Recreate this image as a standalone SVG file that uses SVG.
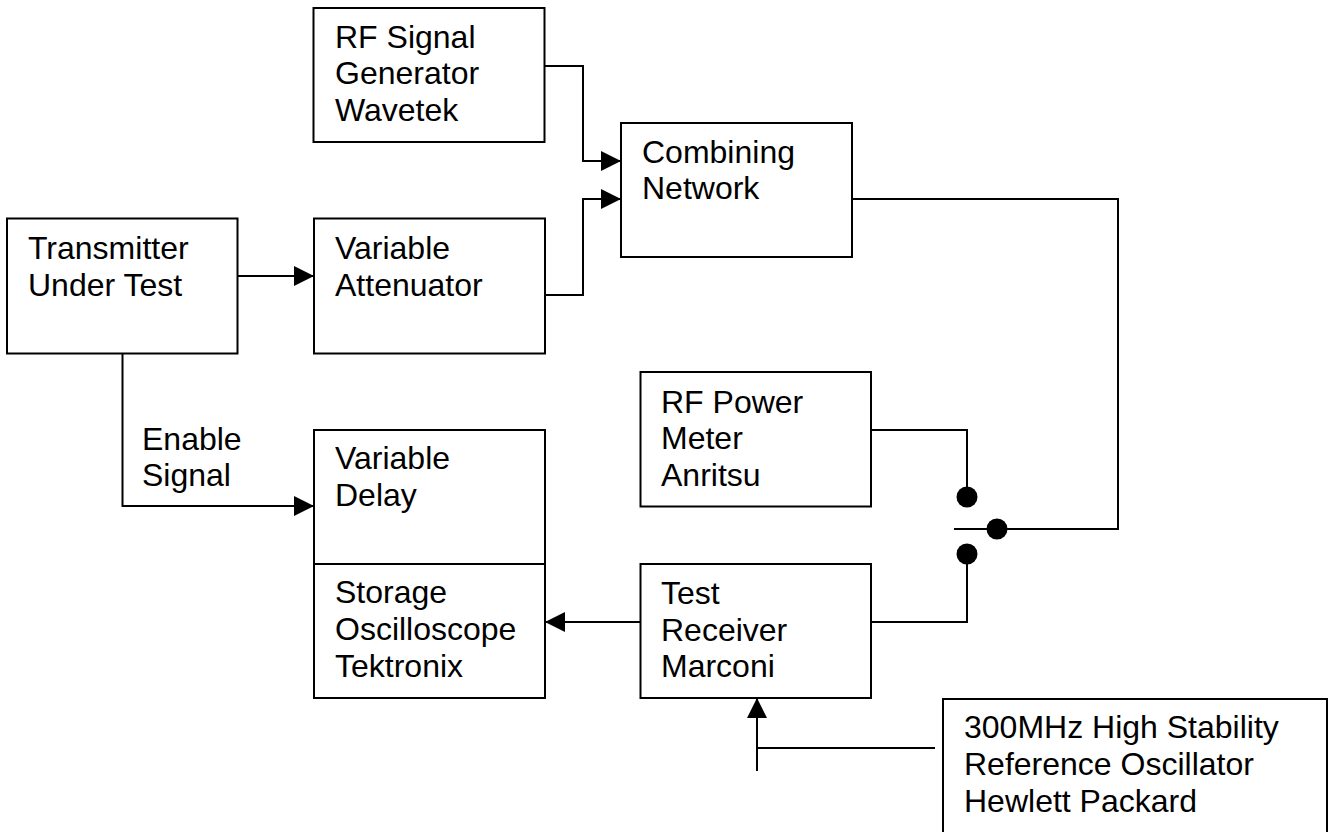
<svg xmlns="http://www.w3.org/2000/svg" width="1334" height="832" viewBox="0 0 1334 832">
<style>
.box{fill:#fff;stroke:#000;stroke-width:2}
.t{font-family:"Liberation Sans",Arial,sans-serif;font-size:32px;fill:#000}
.c{fill:none;stroke:#000;stroke-width:2}
.dot{fill:#000}
</style>
<defs>
<marker id="ah" markerUnits="userSpaceOnUse" markerWidth="20" markerHeight="20" refX="20" refY="10" orient="auto" viewBox="0 0 20 20">
<path d="M0,0 L20,10 L0,20 z" fill="#000"/>
</marker>
</defs>
<rect width="1334" height="832" fill="#fff"/>
<g id="connectors">
<path class="c" d="M545,66 H583 V161 H621" marker-end="url(#ah)"/>
<path class="c" d="M545,295 H583 V199 H621" marker-end="url(#ah)"/>
<path class="c" d="M237,276 H314" marker-end="url(#ah)"/>
<path class="c" d="M122.5,353 V506 H314" marker-end="url(#ah)"/>
<text class="t" x="142" y="450">Enable</text>
<text class="t" x="142" y="486">Signal</text>
<path class="c" d="M852,199 H1118 V529 H954"/>
<path class="c" d="M871,430 H967 V497"/>
<path class="c" d="M871,622 H967 V554"/>
<path class="c" d="M640,622 H545" marker-end="url(#ah)"/>
<path class="c" d="M935,748 H757"/>
<path class="c" d="M757,771 V698" marker-end="url(#ah)"/>
<circle class="dot" cx="967" cy="497" r="10.5"/>
<circle class="dot" cx="997" cy="529" r="10.5"/>
<circle class="dot" cx="967" cy="554" r="10.5"/>
</g>
<g id="rf-signal-generator">
<rect class="box" x="313.5" y="8" width="231" height="134"/>
<text class="t" x="335" y="48">RF Signal</text>
<text class="t" x="335" y="84">Generator</text>
<text class="t" x="335" y="121">Wavetek</text>
</g>
<g id="combining-network">
<rect class="box" x="621" y="123" width="231" height="134"/>
<text class="t" x="642" y="163">Combining</text>
<text class="t" x="642" y="199">Network</text>
</g>
<g id="transmitter">
<rect class="box" x="7" y="218.5" width="230.5" height="135"/>
<text class="t" x="28" y="259">Transmitter</text>
<text class="t" x="28" y="296">Under Test</text>
</g>
<g id="variable-attenuator">
<rect class="box" x="314" y="218.5" width="231" height="135"/>
<text class="t" x="335" y="259">Variable</text>
<text class="t" x="335" y="296">Attenuator</text>
</g>
<g id="rf-power-meter">
<rect class="box" x="640.5" y="372" width="230.5" height="134.5"/>
<text class="t" x="661" y="413">RF Power</text>
<text class="t" x="661" y="449">Meter</text>
<text class="t" x="661" y="486">Anritsu</text>
</g>
<g id="variable-delay">
<rect class="box" x="314" y="430" width="231" height="134"/>
<text class="t" x="335" y="469">Variable</text>
<text class="t" x="335" y="506">Delay</text>
</g>
<g id="storage-oscilloscope">
<rect class="box" x="314" y="564" width="231" height="134"/>
<text class="t" x="335" y="603">Storage</text>
<text class="t" x="335" y="640">Oscilloscope</text>
<text class="t" x="335" y="677">Tektronix</text>
</g>
<g id="test-receiver">
<rect class="box" x="640.5" y="564" width="230.5" height="134"/>
<text class="t" x="661" y="604">Test</text>
<text class="t" x="661" y="641">Receiver</text>
<text class="t" x="661" y="677">Marconi</text>
</g>
<g id="reference-oscillator">
<rect class="box" x="943" y="699" width="384" height="160"/>
<text class="t" x="964" y="738">300MHz High Stability</text>
<text class="t" x="964" y="775">Reference Oscillator</text>
<text class="t" x="964" y="812">Hewlett Packard</text>
</g>
</svg>
